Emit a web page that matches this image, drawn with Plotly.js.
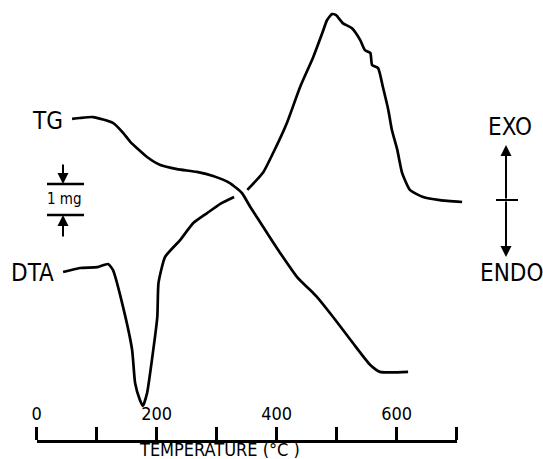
<!DOCTYPE html>
<html>
<head>
<meta charset="utf-8">
<script src="https://cdn.plot.ly/plotly-3.0.1.min.js"></script>
<style>html,body{margin:0;padding:0;background:#fff;}#chart{width:543px;height:459px;}</style>
</head>
<body>
<div id="chart"></div>
<script>
// ---- data ----
// temperature axis ticks (°C)
const tickVals = [0, 100, 200, 300, 400, 500, 600, 700];
const tickText = ['0', '', '200', '', '400', '', '600', ''];

// TG curve: temperature (°C) and relative mass (mg, arbitrary zero)
const tgTemp = [59, 72, 94, 127, 144, 156, 184, 206, 234, 267, 294, 322, 342, 356, 384, 406, 434, 461, 467, 494, 527, 556, 572, 619];
const tgMass = [10.39, 10.42, 10.45, 10.26, 9.94, 9.65, 9.16, 8.90, 8.77, 8.68, 8.55, 8.32, 8.00, 7.55, 6.71, 6.06, 5.29, 4.77, 4.65, 4.00, 3.16, 2.45, 2.23, 2.23];

// DTA curve: temperature (°C) and signal (arbitrary units, exo up); null = break in the trace
const dtaTemp = [44, 72, 101, 119, 127, 144, 159, 164, 172, 177, 184, 192, 201, 203, 214, 239, 261, 284, 306, 329, null,
  351, 377, 394, 417, 439, 461, 476, 484, 492, 499, 510, 525, 539, 547, 556, 559, 569, 577, 586, 592, 601, 609, 622, 644, 672, 709];
const dtaSignal = [5.45, 5.58, 5.61, 5.71, 5.52, 4.32, 2.94, 1.87, 1.32, 1.13, 1.55, 2.61, 4.00, 5.10, 5.94, 6.48, 7.03, 7.35, 7.65, 7.87, null,
  8.10, 8.65, 9.29, 10.26, 11.42, 12.39, 13.16, 13.58, 13.77, 13.74, 13.48, 13.32, 12.94, 12.61, 12.52, 12.13, 12.03, 11.42, 10.68, 10.03, 9.39, 8.65, 8.10, 7.87, 7.77, 7.71];

// ---- layout helpers (figure pixels -> paper fractions) ----
const W = 543, H = 459;
const px = x => x / W;
const py = y => 1 - y / H;
const FONT = '"Liberation Sans Narrow", "DejaVu Sans Condensed", "Arial Narrow", "DejaVu Sans", sans-serif';

const x0px = 36.7, pxPerDeg = 0.6, yBasePx = 441, pxPerUnit = 31;
const xRange = [-x0px / pxPerDeg, (W - x0px) / pxPerDeg];
const yRange = [-(H - yBasePx) / pxPerUnit, yBasePx / pxPerUnit];

const lineStyle = {color: '#000', width: 2.7, shape: 'spline', smoothing: 0.5};

const traces = [
  {x: dtaTemp, y: dtaSignal, type: 'scatter', mode: 'lines', line: lineStyle, connectgaps: false, xaxis: 'x', yaxis: 'y', hoverinfo: 'skip', name: 'DTA'},
  {x: tgTemp, y: tgMass, type: 'scatter', mode: 'lines', line: lineStyle, xaxis: 'x2', yaxis: 'y', hoverinfo: 'skip', name: 'TG'}
];

const arrow = (hx, hy, tx, ty) => ({
  xref: 'paper', yref: 'paper', x: px(hx), y: py(hy), ax: tx - hx, ay: ty - hy,
  axref: 'pixel', ayref: 'pixel', text: '', showarrow: true,
  arrowhead: 2, arrowsize: 1.1, arrowwidth: 2, arrowcolor: '#000'
});
const label = (text, cx, cy, size) => ({
  xref: 'paper', yref: 'paper', x: px(cx), y: py(cy), xanchor: 'center', yanchor: 'middle',
  text: text, showarrow: false, font: {family: FONT, size: size, color: '#000'}
});

const layout = {
  width: W, height: H,
  margin: {l: 0, r: 0, t: 0, b: 0, pad: 0},
  paper_bgcolor: '#fff', plot_bgcolor: 'rgba(0,0,0,0)',
  showlegend: false,
  xaxis: {domain: [0, 1], range: xRange, visible: false, fixedrange: true},
  xaxis2: {
    domain: [x0px / W, (x0px + 700 * pxPerDeg) / W], range: [0, 700],
    anchor: 'free', position: 1 - yBasePx / H, side: 'top',
    showline: true, linecolor: '#000', linewidth: 3,
    ticks: 'outside', ticklen: 13, tickwidth: 3, tickcolor: '#000',
    tickmode: 'array', tickvals: tickVals, ticktext: tickText,
    tickfont: {family: FONT, size: 18, color: '#000'},
    showgrid: false, zeroline: false, fixedrange: true
  },
  yaxis: {domain: [0, 1], range: yRange, visible: false, fixedrange: true},
  shapes: [
    {type: 'line', xref: 'paper', yref: 'paper', x0: px(47), x1: px(84), y0: py(184), y1: py(184), line: {color: '#000', width: 2.5}},
    {type: 'line', xref: 'paper', yref: 'paper', x0: px(47), x1: px(84), y0: py(215), y1: py(215), line: {color: '#000', width: 2.5}},
    {type: 'line', xref: 'paper', yref: 'paper', x0: px(496), x1: px(518), y0: py(200), y1: py(200), line: {color: '#000', width: 2}}
  ],
  annotations: [
    arrow(63, 184, 63, 163),
    arrow(63, 215, 63, 238),
    arrow(506, 145, 506, 200),
    arrow(506, 257, 506, 200),
    label('TG', 47, 121, 24),
    label('DTA', 32, 273, 24),
    label('EXO', 510, 127, 24),
    label('ENDO', 511, 273, 24),
    label('1 mg', 64, 199, 15),
    label('TEMPERATURE (°C )', 219, 449, 18)
  ]
};

Plotly.newPlot('chart', traces, layout, {staticPlot: true, displayModeBar: false});
</script>
</body>
</html>
